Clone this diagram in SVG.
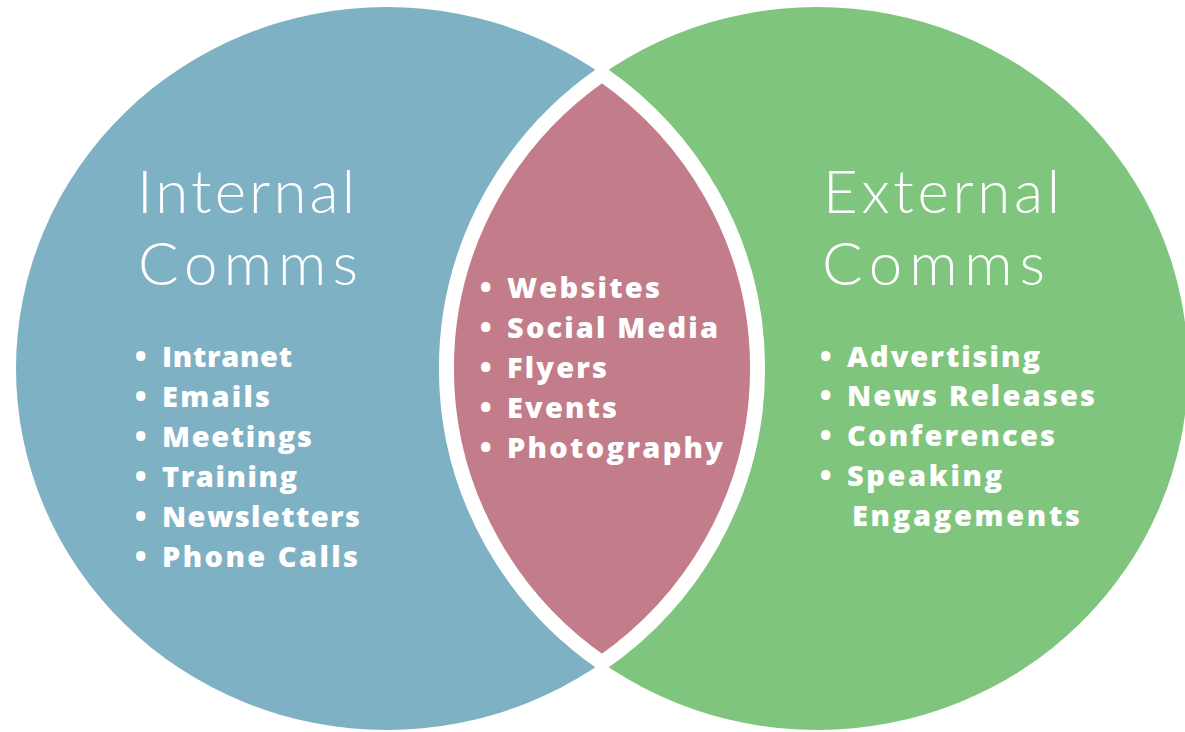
<svg xmlns="http://www.w3.org/2000/svg" width="1185" height="732" viewBox="0 0 1185 732">
  <style>
    .title { font-family: Lato, "Open Sans", "Liberation Sans", sans-serif; font-weight: 300; font-size: 60px; fill: #ffffff; }
    .item { font-family: "Open Sans", "Liberation Sans", sans-serif; font-weight: 800; font-size: 29px; fill: #ffffff; }
  </style>
  <rect width="1185" height="732" fill="#ffffff"/>
  <g id="internal-circle">
    <ellipse cx="386.75" cy="368.5" rx="370.75" ry="361.5" fill="#7FB1C5"/>
  </g>
  <g id="external-circle">
    <ellipse cx="817.25" cy="368.5" rx="370.75" ry="361.5" fill="#7FC57D"/>
  </g>
  <g id="overlap">
    <path d="M 602 74.1 A 370.75 361.5 0 0 0 602 662.9 A 370.75 361.5 0 0 0 602 74.1 Z" fill="#C27C8A" stroke="#ffffff" stroke-width="15" stroke-linejoin="round"/>
  </g>
  <g id="internal-text">
    <text class="title" x="137" y="213" textLength="218">Internal</text>
    <text class="title" x="138" y="285" textLength="220">Comms</text>
    <text class="item" y="367"><tspan x="135">•</tspan><tspan x="162" textLength="130">Intranet</tspan></text>
    <text class="item" y="407"><tspan x="135">•</tspan><tspan x="162" textLength="108">Emails</tspan></text>
    <text class="item" y="447"><tspan x="135">•</tspan><tspan x="162" textLength="150">Meetings</tspan></text>
    <text class="item" y="487"><tspan x="135">•</tspan><tspan x="162" textLength="135">Training</tspan></text>
    <text class="item" y="527"><tspan x="135">•</tspan><tspan x="162" textLength="198">Newsletters</tspan></text>
    <text class="item" y="567"><tspan x="135">•</tspan><tspan x="162" textLength="196">Phone Calls</tspan></text>
  </g>
  <g id="overlap-text">
    <text class="item" y="298"><tspan x="480">•</tspan><tspan x="507" textLength="153">Websites</tspan></text>
    <text class="item" y="338"><tspan x="480">•</tspan><tspan x="507" textLength="211">Social Media</tspan></text>
    <text class="item" y="378"><tspan x="480">•</tspan><tspan x="507" textLength="100">Flyers</tspan></text>
    <text class="item" y="418"><tspan x="480">•</tspan><tspan x="507" textLength="110">Events</tspan></text>
    <text class="item" y="458"><tspan x="480">•</tspan><tspan x="507" textLength="216">Photography</tspan></text>
  </g>
  <g id="external-text">
    <text class="title" x="823" y="213" textLength="237">External</text>
    <text class="title" x="822" y="285" textLength="223">Comms</text>
    <text class="item" y="367"><tspan x="820">•</tspan><tspan x="847" textLength="193">Advertising</tspan></text>
    <text class="item" y="406"><tspan x="820">•</tspan><tspan x="847" textLength="248">News Releases</tspan></text>
    <text class="item" y="446"><tspan x="820">•</tspan><tspan x="847" textLength="208">Conferences</tspan></text>
    <text class="item" y="486"><tspan x="820">•</tspan><tspan x="847" textLength="155">Speaking</tspan></text>
    <text class="item" x="852" y="526" textLength="228">Engagements</text>
  </g>
</svg>
